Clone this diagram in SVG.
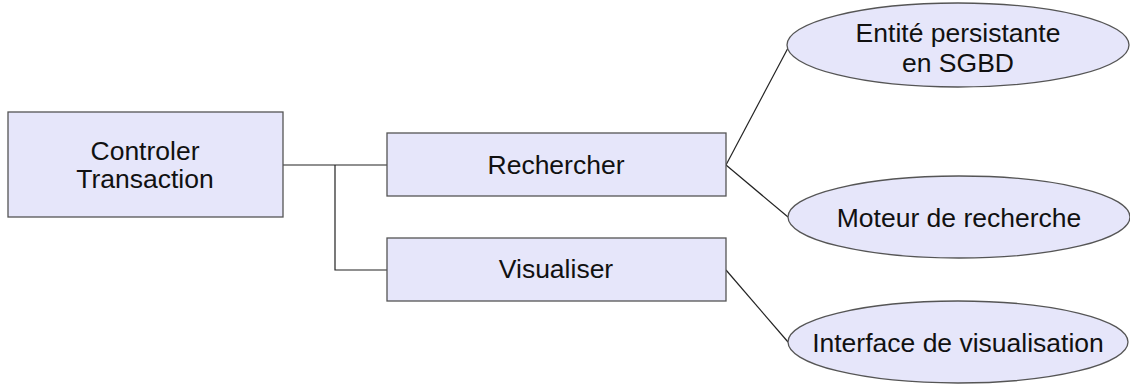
<svg xmlns="http://www.w3.org/2000/svg" width="1130" height="385" viewBox="0 0 1130 385">
  <style>
    .box { fill: #e6e6fa; stroke: #555555; stroke-width: 1.3; }
    .oval { fill: #e6e6fa; stroke: #555555; stroke-width: 1.3; }
    .link { fill: none; stroke: #222222; stroke-width: 1.2; }
    text { font-family: "Liberation Sans", Arial, sans-serif; font-size: 26.5px; fill: #111111; text-anchor: middle; }
  </style>
  <rect width="1130" height="385" fill="#ffffff"/>

  <g id="connectors">
    <polyline class="link" points="283,165 388,165"/>
    <polyline class="link" points="335,165 335,270 388,270"/>
    <line class="link" x1="726" y1="165" x2="788" y2="48"/>
    <line class="link" x1="726" y1="165" x2="788" y2="217"/>
    <line class="link" x1="726" y1="270" x2="788" y2="342"/>
  </g>

  <g id="controler-transaction">
    <rect class="box" x="8" y="112" width="275" height="105"/>
    <text x="145" y="160">Controler</text>
    <text x="145" y="188">Transaction</text>
  </g>

  <g id="rechercher">
    <rect class="box" x="387" y="133" width="339" height="63"/>
    <text x="556" y="174">Rechercher</text>
  </g>

  <g id="visualiser">
    <rect class="box" x="387" y="238" width="339" height="63"/>
    <text x="556" y="278">Visualiser</text>
  </g>

  <g id="entite-persistante">
    <ellipse class="oval" cx="958" cy="45" rx="171" ry="42"/>
    <text x="958" y="42">Entité persistante</text>
    <text x="958" y="72">en SGBD</text>
  </g>

  <g id="moteur-recherche">
    <ellipse class="oval" cx="959" cy="217" rx="171" ry="41"/>
    <text x="959" y="227">Moteur de recherche</text>
  </g>

  <g id="interface-visualisation">
    <ellipse class="oval" cx="958" cy="342" rx="170" ry="41"/>
    <text x="958" y="352">Interface de visualisation</text>
  </g>
</svg>
